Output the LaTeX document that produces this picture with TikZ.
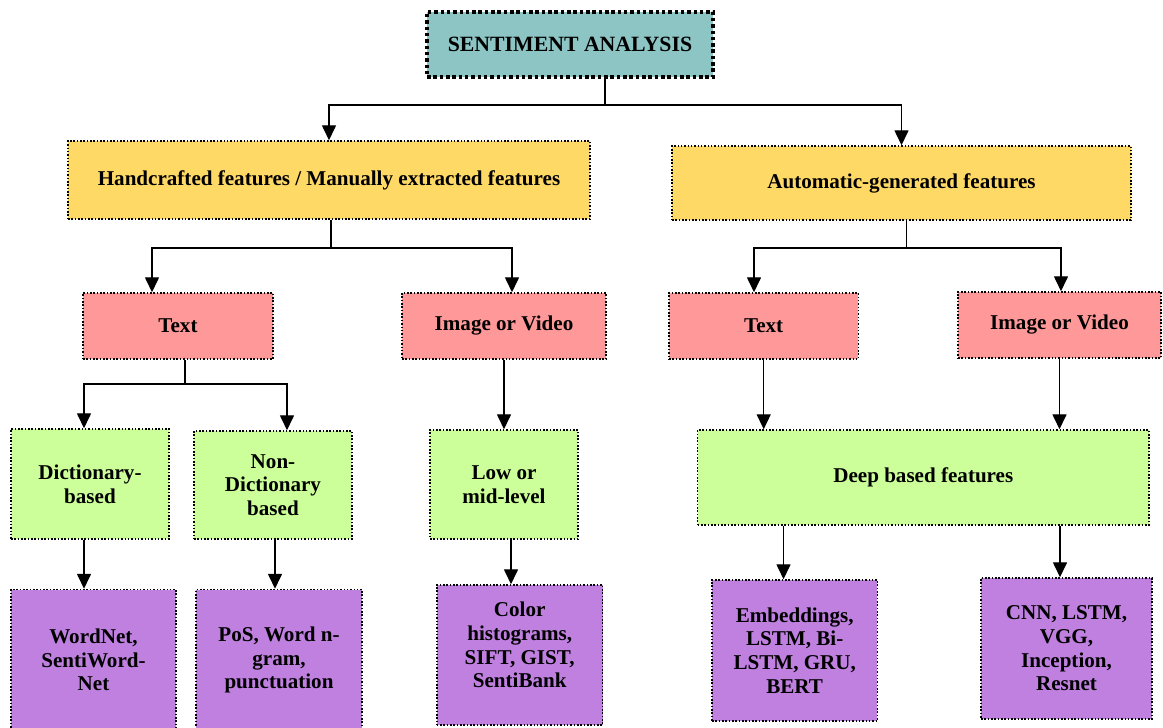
\documentclass[tikz,border=0pt]{standalone}
\usepackage{fontspec}
\setmainfont{Liberation Serif}
\usetikzlibrary{arrows.meta}
\definecolor{tealbox}{RGB}{141,196,196}
\definecolor{goldbox}{RGB}{255,217,102}
\definecolor{pinkbox}{RGB}{255,153,153}
\definecolor{limebox}{RGB}{204,255,153}
\definecolor{violetbox}{RGB}{191,128,224}
\begin{document}
\begin{tikzpicture}[x=0.02cm, y=-0.02cm, line width=0.75pt,
    >={Triangle[length=8.5pt,width=8pt]},
    box/.style={draw, densely dotted, line width=0.9pt, align=center, inner sep=0pt,
      font=\fontsize{12}{13.5}\selectfont\bfseries},
    rootbox/.style={box, fill=tealbox, line width=1.9pt, dash pattern=on 2pt off 1.6pt,
      font=\fontsize{12.4}{15}\selectfont\bfseries},
    featbox/.style={box, fill=goldbox},
    mediabox/.style={box, fill=pinkbox},
    kindbox/.style={box, fill=limebox},
    toolbox/.style={box, fill=violetbox}]
    \useasboundingbox (0,0) rectangle (1163,727);
    \node[rootbox, minimum width=5.72cm, minimum height=1.30cm] (sa) at (570,44.5) {SENTIMENT ANALYSIS};
    \node[featbox, minimum width=10.44cm, minimum height=1.56cm] (hand) at (329,180) {Handcrafted features / Manually extracted features};
    \node[featbox, minimum width=9.18cm, minimum height=1.48cm] (auto) at (901.5,183) {Automatic-generated features};
    \node[mediabox, minimum width=3.80cm, minimum height=1.32cm] (textL) at (178,326) {Text};
    \node[mediabox, minimum width=4.08cm, minimum height=1.32cm] (imgL) at (504,326) {Image or Video};
    \node[mediabox, minimum width=3.79cm, minimum height=1.32cm] (textR) at (763.7,326) {Text};
    \node[mediabox, minimum width=4.06cm, minimum height=1.32cm] (imgR) at (1059.5,325) {Image or Video};
    \node[kindbox, minimum width=3.16cm, minimum height=2.20cm] (dict) at (90,484) {Dictionary-\\based};
    \node[kindbox, minimum width=3.16cm, minimum height=2.16cm] (nondict) at (273,485) {Non-\\Dictionary\\based};
    \node[kindbox, minimum width=2.96cm, minimum height=2.18cm] (low) at (504,484.5) {Low or\\mid-level};
    \node[kindbox, minimum width=9.03cm, minimum height=1.90cm] (deep) at (923.3,477.5) {Deep based features};
    \node[toolbox, minimum width=3.30cm, minimum height=2.82cm] (wordnet) at (93.5,660) {WordNet,\\SentiWord-\\Net};
    \node[toolbox, minimum width=3.32cm, minimum height=2.82cm] (pos) at (279,660) {PoS, Word n-\\gram,\\punctuation};
    \node[toolbox, minimum width=3.32cm, minimum height=2.80cm] (color) at (519.7,655) {Color\\histograms,\\SIFT, GIST,\\SentiBank\rule[-0.4cm]{0pt}{0pt}};
    \node[toolbox, minimum width=3.31cm, minimum height=2.82cm] (embed) at (794.7,650.5) {Embeddings,\\LSTM, Bi-\\LSTM, GRU,\\BERT};
    \node[toolbox, minimum width=3.42cm, minimum height=2.82cm] (cnn) at (1066.5,648.5) {CNN, LSTM,\\VGG,\\Inception,\\Resnet};
    \coordinate (sa-j) at (605,105);
    \coordinate (hand-j) at (331,248);
    \coordinate (auto-j) at (906.6,248);
    \coordinate (textL-j) at (185,384);
    \draw (sa.south -| sa-j) -- (sa-j);
    \draw[->] (sa-j) -| (hand);
    \draw[->] (sa-j) -| (auto);
    \draw (hand.south -| hand-j) -- (hand-j);
    \draw[->] (hand-j) -| (152,0 |- textL.north);
    \draw[->] (hand-j) -| (512,0 |- imgL.north);
    \draw (auto.south -| auto-j) -- (auto-j);
    \draw[->] (auto-j) -| (754,0 |- textR.north);
    \draw[->] (auto-j) -| (1061,0 |- imgR.north);
    \draw (textL.south -| textL-j) -- (textL-j);
    \draw[->] (textL-j) -| (84,0 |- dict.north);
    \draw[->] (textL-j) -| (287,0 |- nondict.north);
    \draw[->] (imgL) -- (low);
    \draw[->] (textR) -- (textR |- deep.north);
    \draw[->] (imgR) -- (imgR |- deep.north);
    \draw[->] (84,0 |- dict.south) -- (84,0 |- wordnet.north);
    \draw[->] (275,0 |- nondict.south) -- (275,0 |- pos.north);
    \draw[->] (511,0 |- low.south) -- (511,0 |- color.north);
    \draw[->] (783.5,0 |- deep.south) -- (783.5,0 |- embed.north);
    \draw[->] (1060,0 |- deep.south) -- (1060,0 |- cnn.north);
  \end{tikzpicture}
\end{document}
